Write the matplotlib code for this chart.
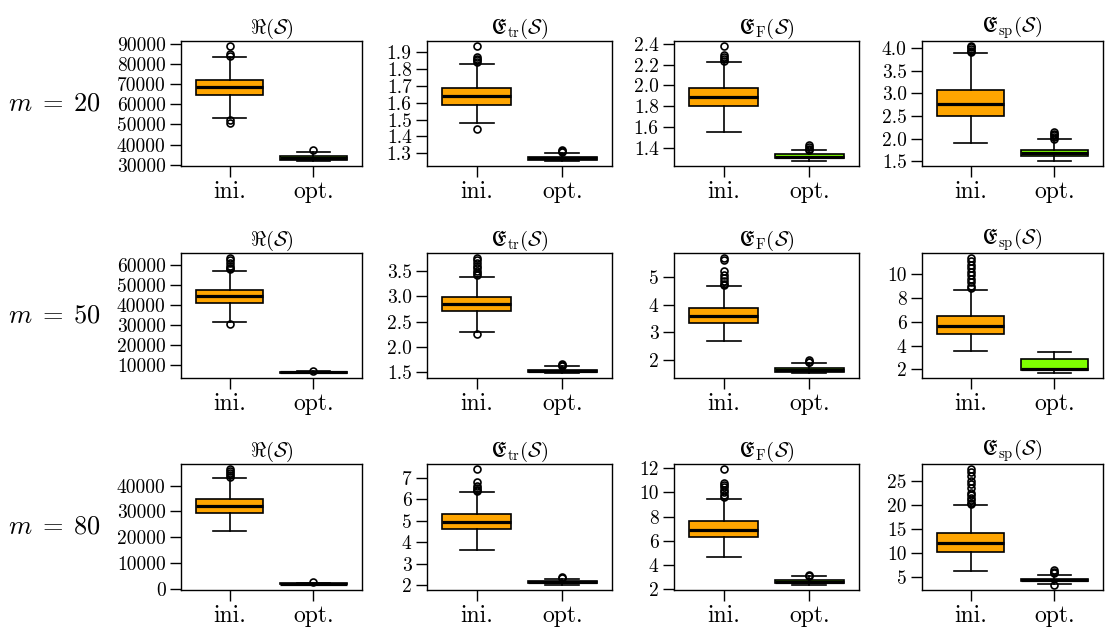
import matplotlib.pyplot as plt
import numpy as np

plt.rcParams['font.family'] = 'cmr10'
plt.rcParams['mathtext.fontset'] = 'cm'
plt.rcParams['axes.formatter.use_mathtext'] = True

m_values = [20, 50, 80]
titles = [r'$\Re(\mathcal{S})$', r'$\mathfrak{E}_{\mathrm{tr}}(\mathcal{S})$',
          r'$\mathfrak{E}_{\mathrm{F}}(\mathcal{S})$', r'$\mathfrak{E}_{\mathrm{sp}}(\mathcal{S})$']
groups = ['ini.', 'opt.']

# box statistics, rows = m, columns = measure
ini_q1 = [[64500, 1.588, 1.800, 2.494], [40700, 2.716, 3.345, 4.934], [29550, 4.632, 6.337, 10.16]]
ini_med = [[68400, 1.637, 1.886, 2.761], [44150, 2.840, 3.607, 5.626], [32230, 4.957, 6.890, 11.97]]
ini_q3 = [[72000, 1.686, 1.974, 3.063], [47250, 2.984, 3.869, 6.457], [34780, 5.313, 7.608, 14.06]]
ini_lo = [[53300, 1.477, 1.558, 1.896], [31400, 2.304, 2.702, 3.522], [22550, 3.625, 4.652, 6.18]]
ini_hi = [[83300, 1.830, 2.223, 3.885], [57060, 3.382, 4.655, 8.671], [42800, 6.350, 9.459, 19.98]]
ini_fliers = [
    [[89200, 84800, 83900, 52100, 50800], [1.937, 1.87, 1.86, 1.85, 1.84, 1.442],
     [2.381, 2.29, 2.27, 2.25, 2.235], [4.05, 4.01, 3.97, 3.94, 3.92]],
    [[63600, 62300, 60900, 59600, 58500, 57800, 30260], [3.76, 3.72, 3.65, 3.6, 3.55, 3.5, 3.45, 3.42, 2.25],
     [5.69, 5.62, 5.22, 5.05, 4.95, 4.85, 4.75, 4.7], [11.38, 11.1, 10.8, 10.5, 10.2, 9.9, 9.6, 9.3, 9.0, 8.8]],
    [[46600, 45800, 45000, 44300, 43500], [7.42, 6.82, 6.6, 6.5, 6.45, 6.4],
     [11.95, 10.8, 10.6, 10.4, 10.2, 10.0, 9.8, 9.6],
     [27.6, 26.8, 26.0, 25.1, 24.3, 23.5, 22.6, 22.0, 21.5, 21.0, 20.5, 20.2]],
]

opt_q1 = [[32200, 1.263, 1.302, 1.608], [5950, 1.500, 1.583, 1.945], [1700, 2.110, 2.525, 4.16]]
opt_med = [[33100, 1.271, 1.320, 1.687], [6200, 1.526, 1.655, 2.000], [1900, 2.155, 2.635, 4.37]]
opt_q3 = [[34100, 1.279, 1.340, 1.759], [6400, 1.552, 1.726, 2.858], [2050, 2.200, 2.746, 4.58]]
opt_lo = [[31650, 1.253, 1.274, 1.500], [5600, 1.480, 1.524, 1.668], [1300, 2.000, 2.330, 3.40]]
opt_hi = [[36200, 1.300, 1.381, 1.983], [6700, 1.618, 1.893, 3.495], [2350, 2.310, 3.077, 5.42]]
opt_fliers = [
    [[37200], [1.323, 1.315, 1.306], [1.43, 1.41, 1.395, 1.385], [2.14, 2.1, 2.07, 2.03, 2.0]],
    [[6900], [1.67, 1.645, 1.63], [1.99, 1.95, 1.92], []],
    [[2450], [2.39, 2.33], [3.19, 3.1], [6.4, 6.0, 5.7, 3.19]],
]

ytick_labels = [
    [['30000', '40000', '50000', '60000', '70000', '80000', '90000'],
     ['1.3', '1.4', '1.5', '1.6', '1.7', '1.8', '1.9'],
     ['1.4', '1.6', '1.8', '2.0', '2.2', '2.4'],
     ['1.5', '2.0', '2.5', '3.0', '3.5', '4.0']],
    [['10000', '20000', '30000', '40000', '50000', '60000'],
     ['1.5', '2.0', '2.5', '3.0', '3.5'],
     ['2', '3', '4', '5'],
     ['2', '4', '6', '8', '10']],
    [['0', '10000', '20000', '30000', '40000'],
     ['2', '3', '4', '5', '6', '7'],
     ['2', '4', '6', '8', '10', '12'],
     ['5', '10', '15', '20', '25']],
]

colors = ['#FFA500', '#7FFF00']

W, H = 1105, 631
fig = plt.figure(figsize=(W / 100, H / 100), dpi=100)

col_left = [181, 427, 674, 922]
col_right = [362, 612, 859, 1103]
row_top = [41, 253, 464]
row_bottom = [166, 378, 590]

for r in range(3):
    for c in range(4):
        ax = fig.add_axes([col_left[c] / W, 1 - row_bottom[r] / H,
                           (col_right[c] - col_left[c]) / W, (row_bottom[r] - row_top[r]) / H])
        stats = [
            dict(med=ini_med[r][c], q1=ini_q1[r][c], q3=ini_q3[r][c],
                 whislo=ini_lo[r][c], whishi=ini_hi[r][c], fliers=ini_fliers[r][c]),
            dict(med=opt_med[r][c], q1=opt_q1[r][c], q3=opt_q3[r][c],
                 whislo=opt_lo[r][c], whishi=opt_hi[r][c], fliers=opt_fliers[r][c]),
        ]
        bp = ax.bxp(stats, positions=[1, 2], widths=0.8, capwidths=0.4, patch_artist=True,
                    boxprops=dict(edgecolor='black', linewidth=1.2),
                    medianprops=dict(color='black', linewidth=2.3),
                    whiskerprops=dict(color='black', linewidth=1.2),
                    capprops=dict(color='black', linewidth=1.2),
                    flierprops=dict(marker='o', markerfacecolor='none', markeredgecolor='black',
                                    markersize=5, markeredgewidth=1.2))
        for patch, col in zip(bp['boxes'], colors):
            patch.set_facecolor(col)

        # R style 4% padding
        allv = [s['whislo'] for s in stats] + [s['whishi'] for s in stats]
        for s in stats:
            allv += list(s['fliers'])
        lo, hi = min(allv), max(allv)
        pad = 0.04 * (hi - lo)
        ax.set_ylim(lo - pad, hi + pad)
        ax.set_xlim(0.42, 2.58)

        labs = ytick_labels[r][c]
        ax.set_yticks([float(t) for t in labs], labs)
        ax.set_xticks([1, 2], groups)
        ax.tick_params(axis='y', labelsize=14, length=8, width=1.0, pad=3, direction='out')
        ax.tick_params(axis='x', labelsize=17, length=8, width=1.0, pad=3, direction='out')
        for sp in ax.spines.values():
            sp.set_linewidth(1.0)
        ax.set_title(titles[c], fontsize=15, pad=4)

row_mid = [(row_top[i] + row_bottom[i]) / 2 for i in range(3)]
for i, m in enumerate(m_values):
    fig.text(55 / W, 1 - row_mid[i] / H, rf'$m \;=\; {m}$', fontsize=19, ha='center', va='center')

plt.savefig('out.png', dpi=100)
